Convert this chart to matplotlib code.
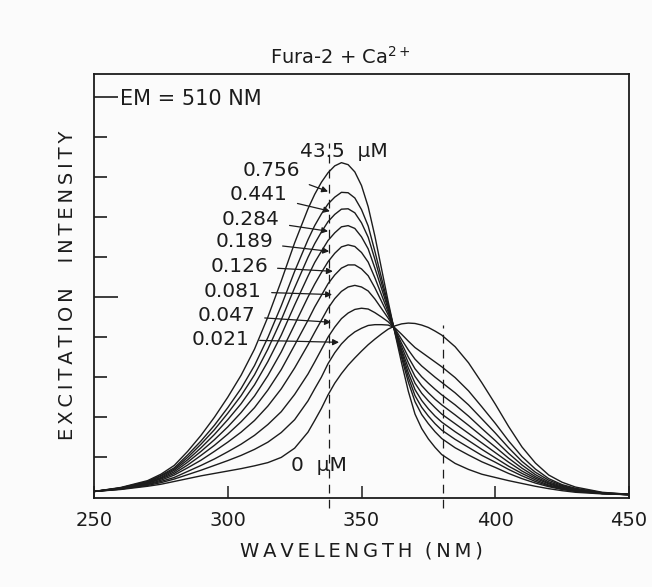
import matplotlib
matplotlib.use("Agg")
import matplotlib.pyplot as plt
from matplotlib.ticker import FixedLocator

# ---------------- data ----------------
wavelength = [250, 260, 270, 275, 280, 285, 290, 295, 300, 305, 310, 315, 320, 325, 330,
              332.5, 335, 337.5, 340, 342.5, 345, 347.5, 350, 352.5, 355, 357.5, 360,
              362.5, 365, 367.5, 370, 372.5, 375, 377.5, 380,
              385, 390, 395, 400, 405, 410, 415, 420, 425, 430, 440, 450]

ca_0 = [0.15, 0.20, 0.28, 0.33, 0.40, 0.47, 0.54, 0.60, 0.66, 0.72, 0.79, 0.87, 1.00, 1.23, 1.63,
        1.92, 2.22, 2.56, 2.85, 3.09, 3.30, 3.48, 3.65, 3.81, 3.95, 4.08, 4.20,
        4.28, 4.33, 4.35, 4.34, 4.30, 4.24, 4.15, 4.05,
        3.76, 3.36, 2.86, 2.33, 1.77, 1.26, 0.86, 0.56, 0.38, 0.26, 0.13, 0.08]
ca_0021 = [0.15, 0.21, 0.30, 0.37, 0.46, 0.57, 0.68, 0.80, 0.92, 1.05, 1.20, 1.38, 1.62, 1.94, 2.41,
           2.71, 3.00, 3.34, 3.61, 3.83, 4.00, 4.13, 4.22, 4.29, 4.31, 4.31, 4.30,
           4.23, 4.07, 3.90, 3.74, 3.62, 3.50, 3.38, 3.26,
           2.99, 2.66, 2.26, 1.85, 1.41, 1.02, 0.71, 0.47, 0.32, 0.23, 0.12, 0.08]
ca_0047 = [0.15, 0.21, 0.32, 0.40, 0.50, 0.65, 0.80, 0.96, 1.14, 1.33, 1.55, 1.82, 2.14, 2.57, 3.08,
           3.38, 3.69, 4.00, 4.25, 4.46, 4.60, 4.69, 4.72, 4.70, 4.61, 4.50, 4.38,
           4.21, 3.94, 3.68, 3.45, 3.28, 3.14, 3.00, 2.87,
           2.61, 2.31, 1.96, 1.61, 1.24, 0.90, 0.63, 0.43, 0.30, 0.21, 0.11, 0.08]
ca_0081 = [0.15, 0.22, 0.33, 0.43, 0.56, 0.74, 0.93, 1.15, 1.38, 1.63, 1.92, 2.28, 2.71, 3.23, 3.81,
           4.12, 4.42, 4.72, 4.96, 5.14, 5.25, 5.29, 5.25, 5.15, 4.95, 4.71, 4.47,
           4.19, 3.84, 3.50, 3.21, 3.01, 2.85, 2.70, 2.56,
           2.31, 2.03, 1.72, 1.42, 1.10, 0.81, 0.57, 0.39, 0.28, 0.20, 0.11, 0.08]
ca_0126 = [0.15, 0.23, 0.35, 0.46, 0.60, 0.81, 1.05, 1.30, 1.58, 1.89, 2.24, 2.68, 3.19, 3.80, 4.42,
           4.75, 5.04, 5.33, 5.55, 5.72, 5.80, 5.80, 5.70, 5.53, 5.23, 4.89, 4.55,
           4.17, 3.76, 3.36, 3.02, 2.79, 2.61, 2.45, 2.31,
           2.06, 1.80, 1.53, 1.26, 0.98, 0.73, 0.52, 0.36, 0.26, 0.18, 0.11, 0.07]
ca_0189 = [0.15, 0.23, 0.36, 0.48, 0.64, 0.88, 1.15, 1.44, 1.76, 2.12, 2.53, 3.04, 3.63, 4.31, 5.00,
           5.32, 5.61, 5.88, 6.09, 6.25, 6.30, 6.26, 6.11, 5.87, 5.48, 5.05, 4.62,
           4.16, 3.68, 3.23, 2.85, 2.60, 2.41, 2.24, 2.08,
           1.84, 1.60, 1.36, 1.12, 0.88, 0.66, 0.48, 0.34, 0.24, 0.17, 0.10, 0.07]
ca_0284 = [0.15, 0.23, 0.38, 0.50, 0.68, 0.94, 1.24, 1.57, 1.94, 2.34, 2.81, 3.39, 4.05, 4.80, 5.52,
           5.86, 6.14, 6.41, 6.60, 6.75, 6.78, 6.71, 6.50, 6.20, 5.72, 5.21, 4.69,
           4.15, 3.62, 3.11, 2.69, 2.42, 2.21, 2.03, 1.88,
           1.64, 1.42, 1.20, 0.99, 0.78, 0.60, 0.44, 0.31, 0.23, 0.17, 0.10, 0.07]
ca_0441 = [0.15, 0.24, 0.39, 0.53, 0.71, 1.00, 1.33, 1.69, 2.10, 2.54, 3.06, 3.70, 4.43, 5.23, 5.99,
           6.33, 6.62, 6.88, 7.06, 7.19, 7.20, 7.10, 6.85, 6.49, 5.94, 5.34, 4.75,
           4.14, 3.55, 3.00, 2.54, 2.25, 2.03, 1.84, 1.68,
           1.45, 1.25, 1.05, 0.88, 0.70, 0.54, 0.40, 0.29, 0.21, 0.16, 0.10, 0.07]
ca_0756 = [0.15, 0.24, 0.40, 0.55, 0.74, 1.06, 1.41, 1.80, 2.24, 2.72, 3.29, 3.99, 4.78, 5.64, 6.43,
           6.78, 7.07, 7.32, 7.49, 7.61, 7.60, 7.47, 7.18, 6.77, 6.14, 5.47, 4.80,
           4.12, 3.48, 2.88, 2.39, 2.07, 1.84, 1.64, 1.47,
           1.24, 1.06, 0.89, 0.75, 0.60, 0.47, 0.36, 0.27, 0.20, 0.15, 0.10, 0.07]
ca_435 = [0.15, 0.25, 0.42, 0.58, 0.80, 1.15, 1.55, 2.00, 2.50, 3.05, 3.70, 4.50, 5.40, 6.35, 7.20,
          7.56, 7.86, 8.10, 8.27, 8.35, 8.30, 8.12, 7.78, 7.25, 6.52, 5.70, 4.88,
          4.10, 3.35, 2.65, 2.08, 1.72, 1.46, 1.25, 1.07,
          0.85, 0.70, 0.58, 0.50, 0.42, 0.35, 0.28, 0.22, 0.17, 0.13, 0.09, 0.07]

curves = [ca_0, ca_0021, ca_0047, ca_0081, ca_0126, ca_0189, ca_0284, ca_0441, ca_0756, ca_435]

# arrow labels: text, text anchor (nm, intensity), arrow tip (nm, intensity)
arrow_labels = ["0.756", "0.441", "0.284", "0.189", "0.126", "0.081", "0.047", "0.021"]
label_x = [327.0, 322.5, 319.5, 316.9, 315.0, 312.8, 310.2, 308.3]
label_y = [8.15, 7.56, 6.93, 6.38, 5.77, 5.14, 4.54, 3.94]
tip_x = [337.5, 338.2, 337.5, 337.9, 339.3, 339.0, 338.6, 341.6]
tip_y = [7.63, 7.14, 6.64, 6.14, 5.64, 5.06, 4.37, 3.87]

x_ticks = [250, 300, 350, 400, 450]
dashed_x = [338, 380.5]

TS = "\u2009"  # thin space used for the letter-spaced lettering


def spaced(word):
    return TS.join(word)


# ---------------- figure ----------------
ink = "#1c1c1c"
fig = plt.figure(figsize=(6.52, 5.87), dpi=100, facecolor="#fbfbfb")
ax = fig.add_axes([94 / 652, 1 - 497.5 / 587, 535 / 652, (497.5 - 74) / 587])
ax.set_facecolor("#fbfbfb")

for c in curves:
    ax.plot(wavelength, c, color=ink, lw=1.0, solid_joinstyle="round")

ax.set_xlim(250, 450)
ax.set_ylim(0, (497.5 - 74) / 40.1)

# dashed reference lines
ax.plot([dashed_x[0]] * 2, [-0.25, 8.85], color=ink, lw=0.9, ls=(0, (7, 5)), clip_on=False)
ax.plot([dashed_x[1]] * 2, [-0.25, 4.3], color=ink, lw=0.9, ls=(0, (7, 5)), clip_on=False)

for s in ax.spines.values():
    s.set_linewidth(1.3)
    s.set_color(ink)

ax.set_xticks(x_ticks)
ax.set_xticklabels([str(v) for v in x_ticks])
ax.tick_params(axis="x", direction="in", length=9, width=1.1, pad=10,
               labelsize=14, colors=ink)
ax.yaxis.set_major_locator(FixedLocator([5, 10]))
ax.yaxis.set_minor_locator(FixedLocator([1, 2, 3, 4, 6, 7, 8, 9]))
ax.tick_params(axis="y", which="major", direction="in", length=17, width=1.2, labelleft=False, colors=ink)
ax.tick_params(axis="y", which="minor", direction="in", length=9, width=1.2, colors=ink)

ax.set_xlabel(spaced("WAVELENGTH") + "  " + spaced("(NM)"), fontsize=14, color=ink, labelpad=8)
ax.text(-0.05, 0.5, spaced("EXCITATION") + "    " + spaced("INTENSITY"), transform=ax.transAxes,
        rotation=90, ha="center", va="center", fontsize=14, color=ink)

fig.text(340 / 652, 1 - 57 / 587, "Fura-2 + Ca$^{2+}$", ha="center", va="center",
         fontsize=14, color=ink)
ax.text(259.7, 9.94, "EM = 510 NM", ha="left", va="center", fontsize=15, color=ink)
ax.text(327.0, 8.64, "43.5  \u03bcM", ha="left", va="center", fontsize=14.5, color=ink)
ax.text(323.6, 0.81, "0  \u03bcM", ha="left", va="center", fontsize=14.5, color=ink)

for t, lx, ly, tx, ty in zip(arrow_labels, label_x, label_y, tip_x, tip_y):
    ax.annotate(t, xy=(tx, ty), xytext=(lx, ly), ha="right", va="center",
                fontsize=14.5, color=ink,
                arrowprops=dict(arrowstyle="-|>", color=ink, lw=0.9,
                                mutation_scale=9, shrinkA=5, shrinkB=0))

fig.savefig("out.png", dpi=100, facecolor=fig.get_facecolor())
